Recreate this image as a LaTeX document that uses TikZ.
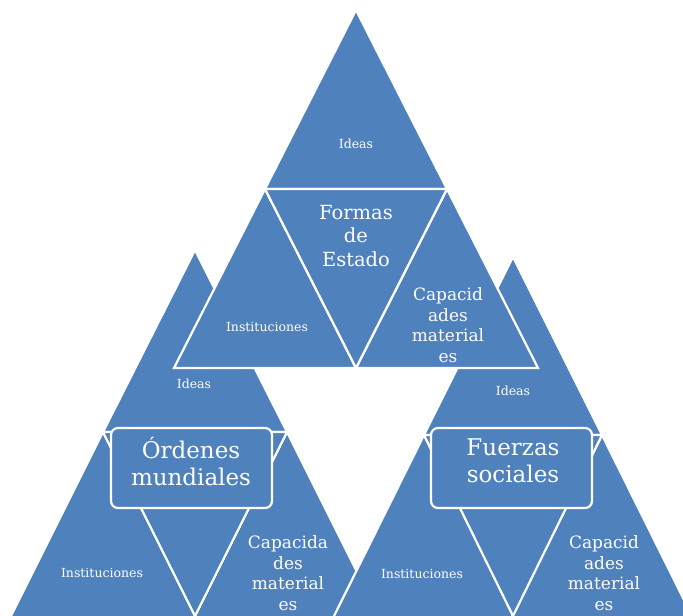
\documentclass[tikz,border=0pt]{standalone}
\usepackage{fontspec}
\setmainfont{DejaVu Serif}
\usepackage{tikz}
\definecolor{triblue}{RGB}{79,129,189}

\tikzset{
    pieza/.style={fill=triblue, draw=white, line width=2.2pt, line join=miter},
    marco/.style={fill=triblue, draw=white, line width=2.2pt, rounded corners=7pt, minimum width=161pt, minimum height=80pt},
    chico/.style={text=white, font=\fontsize{12.5}{14}\selectfont},
    medio/.style={text=white, align=center, inner sep=0pt, font=\fontsize{17}{20.5}\selectfont},
    grande/.style={text=white, align=center, inner sep=0pt, font=\fontsize{19.5}{23.5}\selectfont},
    titulo/.style={text=white, align=center, inner sep=0pt, font=\fontsize{23}{27}\selectfont},
}

\begin{document}
\begin{tikzpicture}[x=1pt, y=-1pt]
    \useasboundingbox (0,0) rectangle (683,616);
    \clip (0,0) rectangle (683,616);

    % Ordenes mundiales
    \filldraw[pieza] (195,250) -- (287,432) -- (103,432) -- cycle;
    \filldraw[pieza] (103,432) -- (197,620) -- (9,620) -- cycle;
    \filldraw[pieza] (287,432) -- (381,620) -- (193,620) -- cycle;
    \filldraw[pieza] (103,432) -- (287,432) -- (195,616) -- cycle;
    \node[marco] (om) at (191.5,468) {};
    \node[titulo] (omtxt) at (191,461) {Órdenes\\mundiales};
    \node[chico] (ideas2) at (194,384) {Ideas};
    \node[chico] (inst2) at (102,573) {Instituciones};
    \node[medio] (cap2) at (288,573) {Capacida\\des\\material\\es};

    % Fuerzas sociales
    \filldraw[pieza] (513,257) -- (602,435) -- (424,435) -- cycle;
    \filldraw[pieza] (424,435) -- (516,620) -- (332,620) -- cycle;
    \filldraw[pieza] (602,435) -- (694,620) -- (510,620) -- cycle;
    \filldraw[pieza] (424,435) -- (602,435) -- (513,616) -- cycle;
    \node[marco] (fs) at (511.5,468) {};
    \node[titulo] (fstxt) at (513,461) {Fuerzas\\sociales};
    \node[chico] (ideas3) at (513,391) {Ideas};
    \node[chico] (inst3) at (422,574) {Instituciones};
    \node[medio] (cap3) at (604,573) {Capacid\\ades\\material\\es};

    % Formas de Estado
    \filldraw[pieza] (356,10) -- (447,189) -- (265,189) -- cycle;
    \filldraw[pieza] (265,189) -- (356,368) -- (174,368) -- cycle;
    \filldraw[pieza] (447,189) -- (538,368) -- (356,368) -- cycle;
    \filldraw[pieza] (265,189) -- (447,189) -- (356,368) -- cycle;
    \node[chico] (ideas1) at (356,144) {Ideas};
    \node[chico] (inst1) at (267,327) {Instituciones};
    \node[grande] (fe) at (356,236) {Formas\\de\\Estado};
    \node[medio] (cap1) at (448,325) {Capacid\\ades\\material\\es};
\end{tikzpicture}
\end{document}
